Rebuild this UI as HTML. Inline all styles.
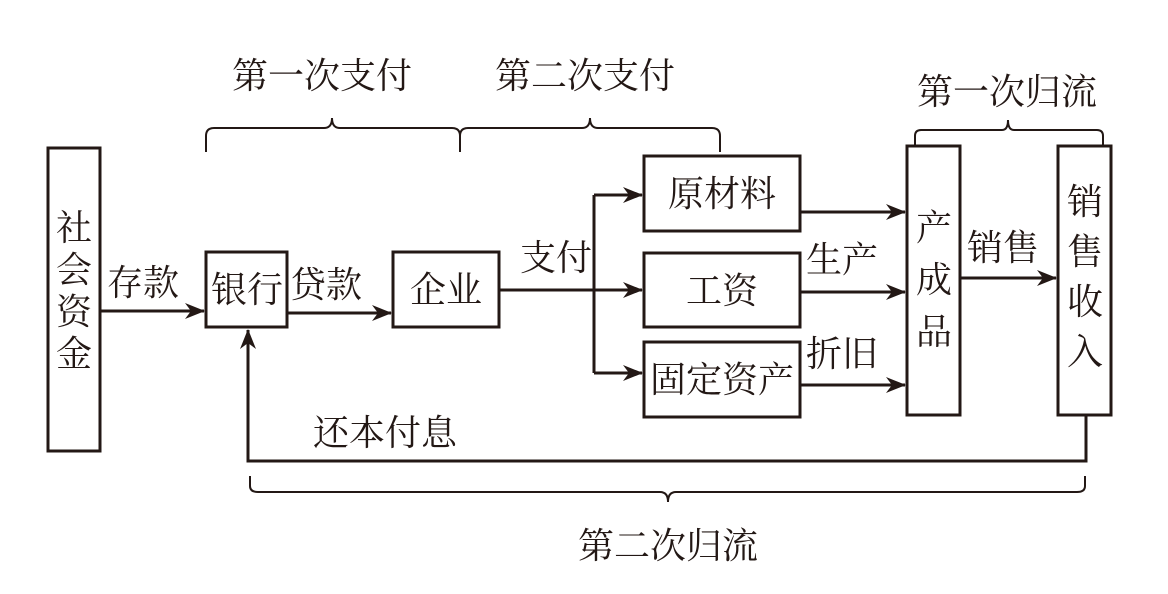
<!DOCTYPE html>
<html><head><meta charset="utf-8"><style>
html,body{margin:0;padding:0;background:#fff;}
svg{display:block}
text{font-family:"Liberation Serif","Noto Serif CJK SC",serif;fill:#231815;}
</style></head><body>
<svg width="1168" height="594" viewBox="0 0 1168 594" xmlns="http://www.w3.org/2000/svg">
<defs>
<marker id="a" viewBox="0 0 20 16" refX="19" refY="8" markerWidth="20" markerHeight="16" markerUnits="userSpaceOnUse" orient="auto">
<path d="M0,0 L20,8 L0,16 L6,8 Z" fill="#231815"/>
</marker>
</defs>
<g fill="none" stroke="#231815" stroke-width="3">
<rect x="48" y="148" width="52" height="303"/>
<rect x="206" y="252" width="81" height="75"/>
<rect x="393" y="252" width="106" height="75"/>
<rect x="644" y="156" width="156" height="75"/>
<rect x="644" y="253" width="156" height="74"/>
<rect x="644" y="342" width="156" height="75"/>
<rect x="907" y="146" width="53" height="269"/>
<rect x="1058" y="146" width="53" height="269"/>
</g>
<g fill="none" stroke="#231815" stroke-width="3">
<line x1="100" y1="311" x2="204" y2="311" marker-end="url(#a)"/>
<line x1="287" y1="313" x2="391" y2="313" marker-end="url(#a)"/>
<polyline points="499,290 594,290"/>
<polyline points="594,195 594,373"/>
<line x1="594" y1="195" x2="642" y2="195" marker-end="url(#a)"/>
<line x1="594" y1="290" x2="642" y2="290" marker-end="url(#a)"/>
<line x1="594" y1="373" x2="642" y2="373" marker-end="url(#a)"/>
<line x1="800" y1="212" x2="905" y2="212" marker-end="url(#a)"/>
<line x1="800" y1="292" x2="905" y2="292" marker-end="url(#a)"/>
<line x1="800" y1="385" x2="905" y2="385" marker-end="url(#a)"/>
<line x1="960" y1="278" x2="1056" y2="278" marker-end="url(#a)"/>
<polyline points="1086,415 1086,461 248,461 248,330" marker-end="url(#a)"/>
</g>
<g fill="none" stroke="#231815" stroke-width="2">
<path d="M206,152 V136 Q206,128 214,128 H324 Q332,128 332,118 Q332,128 340,128 H452 Q460,128 460,136 V152"/>
<path d="M460,152 V136 Q460,128 468,128 H582 Q590,128 590,118 Q590,128 598,128 H712 Q720,128 720,136 V152"/>
<path d="M915,146 V136 Q915,130 921,130 H1002 Q1008,130 1008,120 Q1008,130 1014,130 H1097 Q1103,130 1103,136 V146"/>
<path d="M250,476 V486 Q250,492 258,492 H660 Q668,492 668,502 Q668,492 676,492 H1077 Q1085,492 1085,486 V476"/>
</g>
<g font-size="36">
<text x="322" y="88" text-anchor="middle">第一次支付</text>
<text x="585" y="88" text-anchor="middle">第二次支付</text>
<text x="1007" y="104" text-anchor="middle">第一次归流</text>
<text x="668" y="558" text-anchor="middle">第二次归流</text>
<text x="385" y="445" text-anchor="middle">还本付息</text>
<text x="143" y="295" text-anchor="middle">存款</text>
<text x="326" y="297" text-anchor="middle">贷款</text>
<text x="556" y="270" text-anchor="middle">支付</text>
<text x="842" y="272" text-anchor="middle">生产</text>
<text x="842" y="366" text-anchor="middle">折旧</text>
<text x="1003" y="260" text-anchor="middle">销售</text>
<text x="247" y="302" text-anchor="middle">银行</text>
<text x="446" y="302" text-anchor="middle">企业</text>
<text x="722" y="206" text-anchor="middle">原材料</text>
<text x="722" y="303" text-anchor="middle">工资</text>
<text x="722" y="392" text-anchor="middle">固定资产</text>
</g>
<g font-size="36" text-anchor="middle">
<text x="74" y="240">社</text>
<text x="74" y="282">会</text>
<text x="74" y="324">资</text>
<text x="74" y="366">金</text>
<text x="934" y="240">产</text>
<text x="934" y="292">成</text>
<text x="934" y="344">品</text>
<text x="1085" y="214">销</text>
<text x="1085" y="264">售</text>
<text x="1085" y="314">收</text>
<text x="1085" y="364">入</text>
</g>
</svg>
</body></html>
